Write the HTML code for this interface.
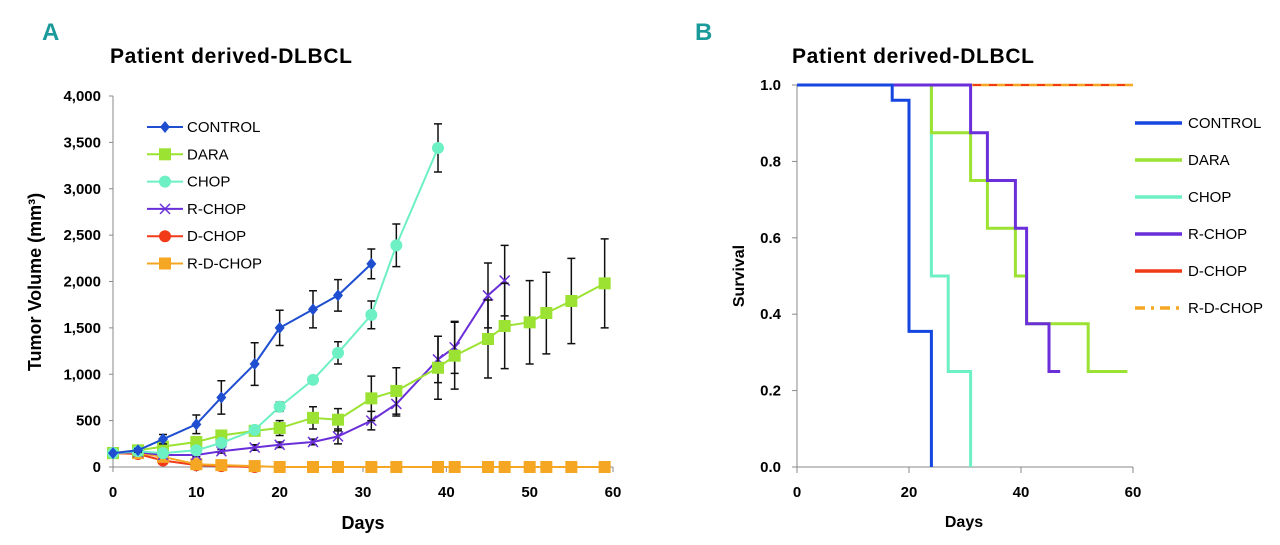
<!DOCTYPE html>
<html><head><meta charset="utf-8"><style>
body{margin:0;background:#fff;width:1280px;height:540px;overflow:hidden;font-family:"Liberation Sans",Arial,sans-serif}
svg text{font-family:"Liberation Sans",Arial,sans-serif}
</style></head><body>
<svg id="c" width="1280" height="540"></svg>
<script>
// ---- Panel A data ----
const daysCtl=[0,3,6,10,13,17,20,24,27,31];
const ctlVals=[150,180,300,460,750,1110,1500,1700,1850,2190];
const ctlErr=[0,20,50,100,180,230,190,200,170,160];
const daysDara=[0,3,6,10,13,17,20,24,27,31,34,39,41,45,47,50,52,55,59];
const daraVals=[150,180,220,270,340,390,420,530,510,740,820,1070,1200,1380,1520,1560,1660,1790,1980];
const daraErr=[0,20,30,40,40,40,80,120,120,240,250,340,360,420,460,450,440,460,480];
const daysChop=[0,3,6,10,13,17,20,24,27,31,34,39];
const chopVals=[150,170,150,180,260,400,650,940,1230,1640,2390,3440];
const chopErr=[0,10,10,20,30,20,50,40,120,150,230,260];
const daysRchop=[0,3,6,10,13,17,20,24,27,31,34,39,41,45,47];
const rchopVals=[150,160,130,130,170,210,240,270,330,500,680,1160,1290,1850,2010];
const rchopErr=[0,10,10,20,20,30,30,30,80,100,130,250,280,350,380];
const daysDchop=[0,3,6,10,13,17];
const dchopVals=[150,140,70,20,10,0];
const daysRdchop=[0,3,6,10,13,17,20,24,27,31,34,39,41,45,47,50,52,55,59];
const rdchopVals=[150,150,110,30,20,10,0,0,0,0,0,0,0,0,0,0,0,0,0];
const yTicksA=[0,500,1000,1500,2000,2500,3000,3500,4000];
const yTickLabelsA=["0","500","1,000","1,500","2,000","2,500","3,000","3,500","4,000"];
const xTicks=[0,10,20,30,40,50,60];
const xTicksB=[0,20,40,60];
// ---- Panel B data ----
const survCtlT=[0,17,20,24];const survCtlS=[1,0.96,0.355,0];
const survDaraT=[0,24,31,34,39,41,52,59];const survDaraS=[1,0.875,0.75,0.625,0.5,0.375,0.25,0.25];
const survChopT=[0,24,27,31];const survChopS=[1,0.5,0.25,0];
const survRchopT=[0,31,34,39,41,45,47];const survRchopS=[1,0.875,0.75,0.625,0.375,0.25,0.25];
const yTicksB=[0,0.2,0.4,0.6,0.8,1.0];

const NS="http://www.w3.org/2000/svg";
const svg=document.getElementById('c');
function el(t,a,p){const e=document.createElementNS(NS,t);for(const k in a)e.setAttribute(k,a[k]);(p||svg).appendChild(e);return e;}
function txt(x,y,s,a,p){const e=el('text',Object.assign({x:x,y:y},a),p);e.textContent=s;return e;}

let t;
t=txt(42,40,"A",{fill:"#1a9a9a","font-size":24,"font-weight":"bold"});
t=txt(695,40,"B",{fill:"#1a9a9a","font-size":24,"font-weight":"bold"});
t=txt(110,63,"Patient derived-DLBCL",{"font-size":21,"font-weight":"bold",textLength:242});
t=txt(792,63,"Patient derived-DLBCL",{"font-size":21,"font-weight":"bold",textLength:242});

// ---- Panel A ----
const gA=el('g',{});
const xA=d=>113+d*(500/60), yA=v=>467-v*(371/4000);
el('line',{x1:113,y1:96,x2:113,y2:467,stroke:"#888","stroke-width":1},gA);
el('line',{x1:113,y1:467,x2:613,y2:467,stroke:"#888","stroke-width":1},gA);
yTicksA.forEach((v,i)=>{el('line',{x1:109,y1:yA(v),x2:113,y2:yA(v),stroke:"#888"},gA);
 const l=txt(101,yA(v)+5,yTickLabelsA[i],{"text-anchor":"end","font-size":15,"font-weight":"bold"},gA);});
xTicks.forEach(v=>{el('line',{x1:xA(v),y1:467,x2:xA(v),y2:472,stroke:"#888"},gA);
 const l=txt(xA(v),497,String(v),{"text-anchor":"middle","font-size":15,"font-weight":"bold"},gA);});
t=txt(363,529,"Days",{"text-anchor":"middle","font-size":18,"font-weight":"bold"},gA);
t=txt(0,0,"Tumor Volume (mm³)",{"text-anchor":"middle","font-size":18,"font-weight":"bold",transform:"translate(41,282) rotate(-90)"},gA);

function marker(type,x,y,c,g){
 if(type==='diamond')return el('polygon',{points:`${x},${y-6} ${x+5},${y} ${x},${y+6} ${x-5},${y}`,fill:c},g);
 if(type==='square')return el('rect',{x:x-6,y:y-6,width:12,height:12,fill:c},g);
 if(type==='circle')return el('circle',{cx:x,cy:y,r:6,fill:c},g);
 if(type==='x'){const p=el('path',{d:`M${x-5},${y-5}L${x+5},${y+5}M${x-5},${y+5}L${x+5},${y-5}`,stroke:c,"stroke-width":1.5,fill:"none"},g);return p;}
}
function series(name,days,vals,errs,c,m){
 const g=el('g',{},gA);
 if(errs)days.forEach((d,i)=>{if(errs[i]<15)return;const x=xA(d),y1=yA(vals[i]+errs[i]),y2=yA(vals[i]-errs[i]);
  el('path',{d:`M${x},${y1}V${y2}M${x-4},${y1}H${x+4}M${x-4},${y2}H${x+4}`,stroke:"#111","stroke-width":1.5,fill:"none"},g);});
 el('polyline',{points:days.map((d,i)=>xA(d)+','+yA(vals[i])).join(' '),fill:"none",stroke:c,"stroke-width":2},g);
 days.forEach((d,i)=>{const mk=marker(m,xA(d),yA(vals[i]),c,g);});
}
series('d-chop',daysDchop,dchopVals,null,"#f03a18","circle");
series('r-d-chop',daysRdchop,rdchopVals,null,"#f5a623","square");
series('r-chop',daysRchop,rchopVals,rchopErr,"#6a2fd8","x");
series('dara',daysDara,daraVals,daraErr,"#9be232","square");
series('chop',daysChop,chopVals,chopErr,"#6cf0c4","circle");
series('control',daysCtl,ctlVals,ctlErr,"#1f4fd0","diamond");

const legA=[["CONTROL","#1f4fd0","diamond"],["DARA","#9be232","square"],["CHOP","#6cf0c4","circle"],["R-CHOP","#6a2fd8","x"],["D-CHOP","#f03a18","circle"],["R-D-CHOP","#f5a623","square"]];
legA.forEach((l,i)=>{const y=127+i*27.3;const g=el('g',{},gA);
 el('line',{x1:147,y1:y,x2:183,y2:y,stroke:l[1],"stroke-width":2},g);marker(l[2],165,y,l[1],g);
 txt(187,y+5,l[0],{"font-size":15},g);});

// ---- Panel B ----
const gB=el('g',{});
const xB=d=>797+d*(336/60), yB=v=>467-v*382;
el('line',{x1:797,y1:85,x2:797,y2:467,stroke:"#888"},gB);
el('line',{x1:797,y1:467,x2:1133,y2:467,stroke:"#888"},gB);
yTicksB.forEach(v=>{el('line',{x1:792,y1:yB(v),x2:797,y2:yB(v),stroke:"#888"},gB);
 const l=txt(781,yB(v)+5,v.toFixed(1),{"text-anchor":"end","font-size":15,"font-weight":"bold"},gB);});
xTicksB.forEach(v=>{el('line',{x1:xB(v),y1:467,x2:xB(v),y2:473,stroke:"#888"},gB);
 const l=txt(xB(v),497,String(v),{"text-anchor":"middle","font-size":15,"font-weight":"bold"},gB);});
t=txt(964,527,"Days",{"text-anchor":"middle","font-size":16,"font-weight":"bold"},gB);
t=txt(0,0,"Survival",{"text-anchor":"middle","font-size":16,"font-weight":"bold",transform:"translate(744,276) rotate(-90)"},gB);

function step(name,T,S,c,w,dash){
 let d=`M${xB(T[0])},${yB(S[0])}`;for(let i=1;i<T.length;i++){d+=`H${xB(T[i])}V${yB(S[i])}`;}
 const p=el('path',{d:d,fill:"none",stroke:c,"stroke-width":w,"stroke-dasharray":dash||"none"},gB);
 
}
step('r-d-chop',[0,60],[1,1],"#f5a623",2.5);
step('d-chop',[0,60],[1,1],"#f03a18",2,"8,8");
step('chop',survChopT,survChopS,"#6cf0c4",3);
step('dara',survDaraT,survDaraS,"#9be232",3);
step('r-chop',survRchopT,survRchopS,"#6a2fd8",3);
step('control',survCtlT,survCtlS,"#1646e0",3);

const legB=[["CONTROL","#1646e0",null],["DARA","#9be232",null],["CHOP","#6cf0c4",null],["R-CHOP","#6a2fd8",null],["D-CHOP","#f03a18",null],["R-D-CHOP","#f5a623","10,6,3,6"]];
legB.forEach((l,i)=>{const y=123+i*37;const g=el('g',{},gB);
 el('line',{x1:1135,y1:y,x2:1182,y2:y,stroke:l[1],"stroke-width":3.5,"stroke-dasharray":l[2]||"none"},g);
 txt(1188,y+5,l[0],{"font-size":15},g);});
</script>
</body></html>
